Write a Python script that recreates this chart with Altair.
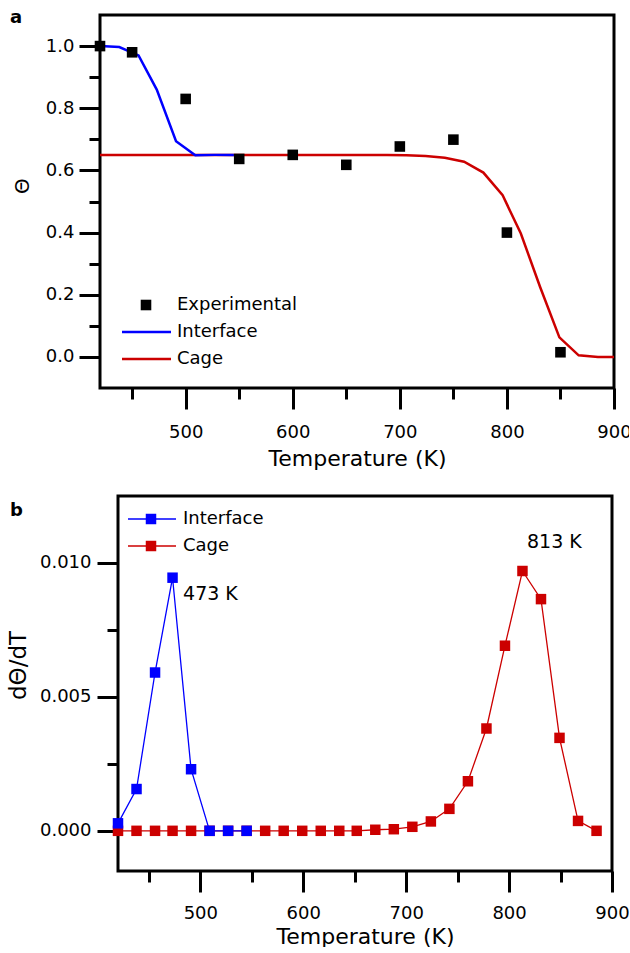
import altair as alt
import pandas as pd

FONT = "DejaVu Sans"
BLUE = "#0000FF"
RED = "#CC0000"

# ---------------- data ----------------
grid_T = [420, 438, 456, 473, 491, 509, 527, 545, 563, 581, 599, 617, 635, 652,
          670, 688, 706, 724, 742, 760, 778, 796, 813, 831, 849, 867, 885]

# panel a
exp_T = [420, 450, 500, 550, 600, 650, 700, 750, 800, 850]
exp_theta = [1.0, 0.98, 0.83, 0.637, 0.65, 0.618, 0.677, 0.699, 0.40, 0.015]

iface_T = [420, 438, 456, 473, 491, 509, 527, 545]
iface_theta = [1.0, 0.997, 0.97, 0.86, 0.694, 0.649, 0.65, 0.65]

cage_T = [420, 438, 456, 473, 491, 509, 527, 545, 563, 581, 599, 617, 635, 652,
          670, 688, 706, 724, 742, 760, 778, 796, 813, 831, 849, 867, 885, 900]
cage_theta = [0.65, 0.65, 0.65, 0.65, 0.65, 0.65, 0.65, 0.65, 0.65, 0.65, 0.65,
              0.65, 0.65, 0.65, 0.65, 0.65, 0.649, 0.646, 0.641, 0.628, 0.593,
              0.52, 0.397, 0.225, 0.063, 0.005, 0.0, 0.0]

# panel b
iface_rate = [0.00028, 0.00156, 0.00591, 0.00945, 0.00230, 0.0, 0.0, 0.0]
cage_rate = [0.0, 0.0, 0.0, 0.0, 0.0, 0.0, 0.0, 0.0, 0.0, 0.0, 0.0, 0.0, 0.0, 0.0,
             0.00004, 0.00006, 0.00015, 0.00035, 0.00082, 0.00185, 0.00382,
             0.00691, 0.00970, 0.00865, 0.00347, 0.00037, 0.0]

legend_a_labels = ["Experimental", "Interface", "Cage"]
legend_b_labels = ["Interface", "Cage"]
peak_labels = ["473 K", "813 K"]
peak_T = [473, 813]
peak_rate = [0.00945, 0.00970]

x_major = [500, 600, 700, 800, 900]
x_minor = [450, 550, 650, 750, 850]
ya_major = [0.0, 0.2, 0.4, 0.6, 0.8, 1.0]
ya_minor = [0.1, 0.3, 0.5, 0.7, 0.9]
yb_major = [0.0, 0.005, 0.010]
yb_minor = [0.0025, 0.0075]

SHIFT = 18  # panel a's plot starts 18 px left of panel b's


def major_axis(values, fmt, orient, title, label_pad, title_pad, title_size, **kw):
    return alt.Axis(values=values, format=fmt, orient=orient, title=title,
                    domain=False, grid=False, ticks=True, tickSize=21, tickWidth=3,
                    tickColor="black", labelFont=FONT, labelFontSize=18,
                    labelColor="black", labelPadding=label_pad, labelFlush=False,
                    labelOverlap=False, titleFont=FONT, titleFontSize=title_size,
                    titleFontWeight="normal", titleColor="black",
                    titlePadding=title_pad, **kw)


def minor_axis(values, orient, **kw):
    return alt.Axis(values=values, orient=orient, title=None, labels=False,
                    domain=False, grid=False, ticks=True, tickSize=11, tickWidth=3,
                    tickColor="black", **kw)


def one_row(label):
    return pd.DataFrame({"label": [label]})


def txt(label, x, y, size=18, weight="normal"):
    return alt.Chart(one_row(label)).mark_text(
        align="left", baseline="middle", font=FONT, fontSize=size,
        fontWeight=weight, color="black").encode(
        text="label:N", x=alt.value(x), y=alt.value(y))


def hline(x1, x2, y, color, w):
    return alt.Chart(one_row("l")).mark_rule(color=color, strokeWidth=w).encode(
        x=alt.value(x1), x2=alt.value(x2), y=alt.value(y))


def sq(x, y, color, size):
    return alt.Chart(one_row("s")).mark_square(color=color, size=size, opacity=1).encode(
        x=alt.value(x), y=alt.value(y))


def frame(x1, x2, h):
    return alt.Chart(one_row("f")).mark_rect(
        fillOpacity=0, stroke="black", strokeWidth=3).encode(
        x=alt.value(x1), x2=alt.value(x2), y=alt.value(0), y2=alt.value(h))


# ---------------- panel a ----------------
W_A, H_A = 514, 373
xs_a = alt.Scale(domain=[420, 900], range=[-SHIFT, W_A - SHIFT], nice=False, zero=False)
ys_a = alt.Scale(domain=[-0.1, 1.1], nice=False, zero=False)

df_exp = pd.DataFrame({"T": exp_T, "v": exp_theta})
df_iface_a = pd.DataFrame({"T": iface_T, "v": iface_theta})
df_cage_a = pd.DataFrame({"T": cage_T, "v": cage_theta})

cage_a = alt.Chart(df_cage_a).mark_line(color=RED, strokeWidth=2.5).encode(
    x=alt.X("T:Q", scale=xs_a,
            axis=major_axis(x_major, "d", "bottom", "Temperature (K)", 14, 7, 22,
                            titleX=(W_A / 2) - SHIFT, titleAnchor="middle")),
    y=alt.Y("v:Q", scale=ys_a,
            axis=major_axis(ya_major, ".1f", "left", "Θ", 5, 0, 20, offset=SHIFT,
                            titleX=-78, titleY=170.5, titleAngle=270,
                            titleAlign="center", titleBaseline="middle")),
)
minor_a = alt.Chart(df_exp).mark_point(opacity=0).encode(
    x=alt.X("T:Q", scale=xs_a, axis=minor_axis(x_minor, "bottom")),
    y=alt.Y("v:Q", scale=ys_a, axis=minor_axis(ya_minor, "left", offset=SHIFT)),
)
iface_a = alt.Chart(df_iface_a).mark_line(color=BLUE, strokeWidth=2.5).encode(
    x=alt.X("T:Q", scale=xs_a, axis=None),
    y=alt.Y("v:Q", scale=ys_a, axis=None),
)
exp_a = alt.Chart(df_exp).mark_square(color="black", size=112, opacity=1).encode(
    x=alt.X("T:Q", scale=xs_a, axis=None),
    y=alt.Y("v:Q", scale=ys_a, axis=None),
)

panel_a = alt.layer(
    frame(-SHIFT, W_A - SHIFT, H_A),
    cage_a, minor_a, iface_a, exp_a,
    sq(46 - SHIFT, 290, "black", 112), txt(legend_a_labels[0], 77 - SHIFT, 290),
    hline(22 - SHIFT, 71 - SHIFT, 317, BLUE, 2.5), txt(legend_a_labels[1], 77 - SHIFT, 317),
    hline(22 - SHIFT, 71 - SHIFT, 344, RED, 2.5), txt(legend_a_labels[2], 77 - SHIFT, 344),
    alt.Chart(one_row("a")).mark_text(align="left", baseline="alphabetic", font=FONT,
                                     fontSize=18, fontWeight="bold", color="black").encode(
        text="label:N", x=alt.value(-90 - SHIFT), y=alt.value(8)),
).resolve_axis(x="independent", y="independent").properties(width=W_A - SHIFT, height=H_A)

# ---------------- panel b ----------------
W_B, H_B = 494, 375
xs_b = alt.Scale(domain=[420, 900], nice=False, zero=False)
ys_b = alt.Scale(domain=[-0.0015, 0.0125], nice=False, zero=False)

df_iface_b = pd.DataFrame({"T": iface_T, "v": iface_rate})
df_cage_b = pd.DataFrame({"T": grid_T, "v": cage_rate})

cage_b_line = alt.Chart(df_cage_b).mark_line(color=RED, strokeWidth=1.3).encode(
    x=alt.X("T:Q", scale=xs_b,
            axis=major_axis(x_major, "d", "bottom", "Temperature (K)", 12, 4, 22)),
    y=alt.Y("v:Q", scale=ys_b,
            axis=major_axis(yb_major, ".3f", "left", "dΘ/dT", 6, 0, 23,
                            titleX=-99.5, titleY=169, titleAngle=270,
                            titleAlign="center", titleBaseline="middle")),
)
minor_b = alt.Chart(df_cage_b).mark_point(opacity=0).encode(
    x=alt.X("T:Q", scale=xs_b, axis=minor_axis(x_minor, "bottom")),
    y=alt.Y("v:Q", scale=ys_b, axis=minor_axis(yb_minor, "left")),
)
cage_b_pts = alt.Chart(df_cage_b).mark_square(color=RED, size=110, opacity=1).encode(
    x=alt.X("T:Q", scale=xs_b, axis=None),
    y=alt.Y("v:Q", scale=ys_b, axis=None),
)
iface_b_line = alt.Chart(df_iface_b).mark_line(color=BLUE, strokeWidth=1.3).encode(
    x=alt.X("T:Q", scale=xs_b, axis=None),
    y=alt.Y("v:Q", scale=ys_b, axis=None),
)
iface_b_pts = alt.Chart(df_iface_b).mark_square(color=BLUE, size=110, opacity=1).encode(
    x=alt.X("T:Q", scale=xs_b, axis=None),
    y=alt.Y("v:Q", scale=ys_b, axis=None),
)


def peak_text(i, dx, dy):
    df = pd.DataFrame({"label": [peak_labels[i]], "T": [peak_T[i]], "v": [peak_rate[i]]})
    return alt.Chart(df).mark_text(align="left", baseline="middle", font=FONT,
                                   fontSize=19, color="black", dx=dx, dy=dy).encode(
        text="label:N",
        x=alt.X("T:Q", scale=xs_b, axis=None),
        y=alt.Y("v:Q", scale=ys_b, axis=None))


panel_b = alt.layer(
    frame(0, W_B, H_B),
    cage_b_line, minor_b, cage_b_pts, iface_b_line, iface_b_pts,
    peak_text(0, 10.5, 16), peak_text(1, 4.5, -29),
    hline(10, 58, 23, BLUE, 1.3), sq(33, 23, BLUE, 110), txt(legend_b_labels[0], 65, 23),
    hline(10, 58, 50, RED, 1.3), sq(33, 50, RED, 110), txt(legend_b_labels[1], 65, 50),
    alt.Chart(one_row("b")).mark_text(align="left", baseline="alphabetic", font=FONT,
                                     fontSize=18, fontWeight="bold", color="black").encode(
        text="label:N", x=alt.value(-108), y=alt.value(20)),
).resolve_axis(x="independent", y="independent").properties(width=W_B, height=H_B)

chart = alt.vconcat(panel_a, panel_b, spacing=25).properties(
    padding={"left": 7, "top": 9, "right": -3, "bottom": 0}
).configure(font=FONT, background="white").configure_view(stroke="transparent", strokeWidth=0)

chart.save("out.html", embed_options={"renderer": "svg", "actions": False})
